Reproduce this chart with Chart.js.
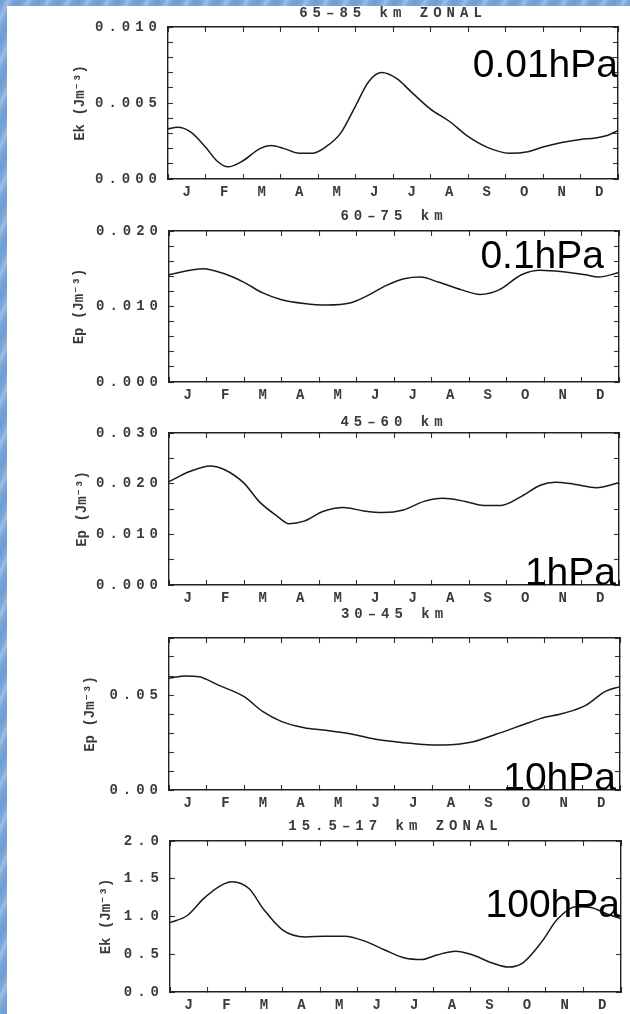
<!DOCTYPE html>
<html>
<head>
<meta charset="utf-8">
<script src="https://cdn.jsdelivr.net/npm/chart.js@4.4.1/dist/chart.umd.min.js"></script>
<style>
html,body{margin:0;padding:0;background:#fff;}
body{width:630px;height:1014px;position:relative;overflow:hidden;}
.bg{position:absolute;z-index:5;background:repeating-linear-gradient(115deg,#6e9dd5 0px,#7fa9da 5px,#9dbfe5 8px,#7aa6d9 12px,#6e9dd5 18px);}
canvas{position:absolute;left:0;}
.hpa{position:absolute;z-index:10;font-family:'Liberation Sans',Arial,sans-serif;font-size:39px;line-height:39px;color:#000;white-space:nowrap;text-align:right;}
</style>
</head>
<body>
<div class="bg" style="left:0;top:0;width:7px;height:1014px;"></div>
<div class="bg" style="left:0;top:0;width:630px;height:6px;"></div>
<script>
// ---------- data ----------
const months = ['J','F','M','A','M','J','J','A','S','O','N','D'];
const monthCenters = [0.5,1.5,2.5,3.5,4.5,5.5,6.5,7.5,8.5,9.5,10.5,11.5];

const panelTitles = ['65\u201385 km ZONAL', '60\u201375 km', '45\u201360 km', '30\u201345 km', '15.5\u201317 km ZONAL'];
const yTitles = ['Ek (Jm\u207B\u00B3)', 'Ep (Jm\u207B\u00B3)', 'Ep (Jm\u207B\u00B3)', 'Ep (Jm\u207B\u00B3)', 'Ek (Jm\u207B\u00B3)'];
const hpaLabels = ['0.01hPa', '0.1hPa', '1hPa', '10hPa', '100hPa'];

const yMax  = [0.010, 0.020, 0.030, 0.08, 2.0];
const yStep = [0.001, 0.002, 0.005, 0.01, 0.5];
const yLabels1 = ['0.000', '0.005', '0.010'];
const yLabels2 = ['0.000', '0.010', '0.020'];
const yLabels3 = ['0.000', '0.010', '0.020', '0.030'];
const yLabels4 = ['0.00', '0.05'];
const yLabels5 = ['0.0', '0.5', '1.0', '1.5', '2.0'];

// month position (0 = start of Jan, 12 = end of Dec) and values
const x1 = [0, 0.25, 0.6, 1.0, 1.3, 1.6, 2.0, 2.45, 2.75, 3.1, 3.5, 3.85, 4.2, 4.6, 5.0, 5.35, 5.7, 6.1, 6.5, 7.0, 7.5, 8.0, 8.5, 9.1, 9.6, 10.0, 10.5, 11.0, 11.4, 11.75, 12];
const v1 = [0.0033, 0.0034, 0.0031, 0.0021, 0.0012, 0.0008, 0.0012, 0.0020, 0.0022, 0.0020, 0.0017, 0.0017, 0.0021, 0.0030, 0.0048, 0.0064, 0.0070, 0.0066, 0.0057, 0.0046, 0.0038, 0.0028, 0.0021, 0.0017, 0.0018, 0.0021, 0.0024, 0.0026, 0.0027, 0.0029, 0.0032];

const x2 = [0, 0.45, 0.9, 1.5, 2.0, 2.5, 3.0, 3.6, 4.2, 4.85, 5.2, 5.8, 6.3, 6.7, 7.2, 7.8, 8.3, 8.8, 9.4, 9.9, 10.5, 11.1, 11.45, 12];
const v2 = [0.0142, 0.0147, 0.0150, 0.0143, 0.0132, 0.0118, 0.0109, 0.0104, 0.0102, 0.0105, 0.0112, 0.0128, 0.0137, 0.0139, 0.0132, 0.0122, 0.0116, 0.0122, 0.0142, 0.0148, 0.0146, 0.0142, 0.0139, 0.0145];

const x3 = [0, 0.55, 1.1, 1.5, 2.0, 2.4, 2.9, 3.2, 3.6, 4.1, 4.65, 5.2, 5.7, 6.25, 6.8, 7.3, 7.9, 8.4, 8.85, 9.4, 9.9, 10.3, 10.8, 11.4, 12];
const v3 = [0.0204, 0.0224, 0.0235, 0.0227, 0.0201, 0.0165, 0.0135, 0.0121, 0.0126, 0.0145, 0.0153, 0.0146, 0.0143, 0.0148, 0.0165, 0.0171, 0.0165, 0.0157, 0.0157, 0.0175, 0.0197, 0.0203, 0.0199, 0.0192, 0.0202];

const x4 = [0, 0.45, 0.8, 1.3, 2.0, 2.5, 3.0, 3.6, 4.1, 4.85, 5.5, 6.25, 7.0, 7.6, 8.1, 8.7, 9.4, 9.9, 10.5, 11.1, 11.6, 12];
const v4 = [0.0588, 0.0600, 0.0596, 0.0553, 0.0491, 0.0412, 0.0360, 0.0328, 0.0316, 0.0295, 0.0267, 0.0249, 0.0237, 0.0240, 0.0254, 0.0293, 0.0342, 0.0377, 0.0404, 0.0447, 0.0518, 0.0544];

const x5 = [0, 0.45, 0.9, 1.35, 1.65, 2.1, 2.5, 3.0, 3.6, 4.1, 4.65, 5.2, 5.7, 6.25, 6.7, 7.1, 7.6, 8.0, 8.6, 9.0, 9.4, 9.9, 10.3, 10.8, 11.2, 11.6, 12];
const v5 = [0.92, 1.01, 1.24, 1.41, 1.46, 1.37, 1.09, 0.82, 0.73, 0.74, 0.74, 0.67, 0.56, 0.45, 0.43, 0.49, 0.54, 0.50, 0.38, 0.33, 0.39, 0.67, 0.96, 1.13, 1.12, 1.04, 0.97];

const xs = [x1, x2, x3, x4, x5];
const vs = [v1, v2, v3, v4, v5];
const yLabelSets = [yLabels1, yLabels2, yLabels3, yLabels4, yLabels5];

// ---------- layout (pixels) ----------
const boxes = [
  {top: 27,  bottom: 179, left: 168, right: 618, titleGap: 14, yTitleX: 80,  hpaRight: 618, hpaTop: 44},
  {top: 231, bottom: 382, left: 169, right: 619, titleGap: 15, yTitleX: 79,  hpaRight: 604, hpaTop: 235},
  {top: 433, bottom: 585, left: 169, right: 619, titleGap: 11, yTitleX: 82,  hpaRight: 616, hpaTop: 552},
  {top: 638, bottom: 790, left: 169, right: 620, titleGap: 24, yTitleX: 90,  hpaRight: 616, hpaTop: 757},
  {top: 841, bottom: 992, left: 170, right: 621, titleGap: 15, yTitleX: 106, hpaRight: 620, hpaTop: 884}
];
const TOPH = 40, BOTH = 24, W = 630;
const TXT = '#3a3a3a';
const MONO = "'Liberation Mono','Courier New',monospace";
const tickFont = {family: MONO, size: 14, weight: 'bold', lineHeight: 1.2};

function wrapSpacing(scale, method, px) {
  if (!scale || scale['__w_' + method]) return;
  const orig = scale[method];
  scale[method] = function() {
    const c = this.ctx; const prev = c.letterSpacing;
    c.letterSpacing = px;
    const r = orig.apply(this, arguments);
    c.letterSpacing = prev;
    return r;
  };
  scale['__w_' + method] = true;
}
const spacingPlugin = {
  id: 'spacing',
  beforeDraw(chart) {
    chart.ctx.letterSpacing = '0px';
    wrapSpacing(chart.scales.y, 'drawLabels', '5px');
    wrapSpacing(chart.scales.xTop, 'drawTitle', '5px');
  }
};

function makeChart(i) {
  const box = boxes[i];
  const h = box.bottom - box.top;
  const cv = document.createElement('canvas');
  cv.width = W; cv.height = TOPH + h + BOTH;
  cv.style.top = (box.top - TOPH) + 'px';
  cv.style.width = W + 'px'; cv.style.height = (TOPH + h + BOTH) + 'px';
  document.body.appendChild(cv);

  const labels = yLabelSets[i];
  const labelFor = v => {
    const m = labels.find(t => Math.abs(parseFloat(t) - v) < yStep[i] * 1e-3);
    return m === undefined ? '' : m;
  };
  const yTicks = s => {
    const n = Math.round(yMax[i] / yStep[i]);
    const arr = [];
    for (let k = 0; k <= n; k++) arr.push({value: k * yStep[i]});
    s.ticks = arr;
  };
  const xTicks = s => { s.ticks = monthCenters.map(v => ({value: v})); };
  const grid = {display: true, drawOnChartArea: false, drawTicks: true, tickLength: -5, tickWidth: 1.1, tickColor: '#333'};
  const border = {display: true, color: '#222', width: 1.4};

  new Chart(cv, {
    type: 'line',
    data: {
      datasets: [{
        data: xs[i].map((x, k) => ({x: x, y: vs[i][k]})),
        borderColor: '#1a1a1a', borderWidth: 1.5, pointRadius: 0,
        cubicInterpolationMode: 'monotone', fill: false,
        xAxisID: 'x', yAxisID: 'y'
      }]
    },
    options: {
      responsive: false, animation: false, events: [],
      layout: {padding: 0},
      plugins: {legend: {display: false}, tooltip: {enabled: false}, title: {display: false}},
      scales: {
        x: {
          type: 'linear', position: 'bottom', min: 0, max: 12,
          grid: Object.assign({}, grid, {offset: true}), border: border,
          afterBuildTicks: xTicks,
          ticks: {autoSkip: false, maxRotation: 0, minRotation: 0, padding: 9.6, font: tickFont, color: TXT,
                  callback: (v, idx) => months[idx]},
          afterFit: s => { s.height = BOTH; }
        },
        xTop: {
          type: 'linear', position: 'top', min: 0, max: 12,
          grid: Object.assign({}, grid, {offset: true}), border: border,
          afterBuildTicks: xTicks,
          ticks: {display: false},
          title: {display: true, text: panelTitles[i], font: tickFont, color: TXT,
                  padding: {top: TOPH - box.titleGap - 8.4, bottom: 0}},
          afterFit: s => { s.height = TOPH; }
        },
        y: {
          type: 'linear', position: 'left', min: 0, max: yMax[i],
          grid: grid, border: border,
          afterBuildTicks: yTicks,
          ticks: {autoSkip: false, padding: 11, font: tickFont, color: TXT, callback: v => labelFor(v)},
          title: {display: true, text: yTitles[i], font: {family: MONO, size: 14, weight: 'bold', lineHeight: 1.2}, color: TXT,
                  padding: {top: box.yTitleX - 8.4, bottom: 0}},
          afterFit: s => { s.width = box.left; }
        },
        yR: {
          type: 'linear', position: 'right', min: 0, max: yMax[i],
          grid: grid, border: border,
          afterBuildTicks: yTicks,
          ticks: {display: false},
          afterFit: s => { s.width = W - box.right; }
        }
      }
    },
    plugins: [spacingPlugin]
  });

  const d = document.createElement('div');
  d.className = 'hpa';
  d.textContent = hpaLabels[i];
  d.style.right = (W - box.hpaRight) + 'px';
  d.style.top = box.hpaTop + 'px';
  document.body.appendChild(d);
}

for (let i = 0; i < 5; i++) makeChart(i);
</script>
</body>
</html>
